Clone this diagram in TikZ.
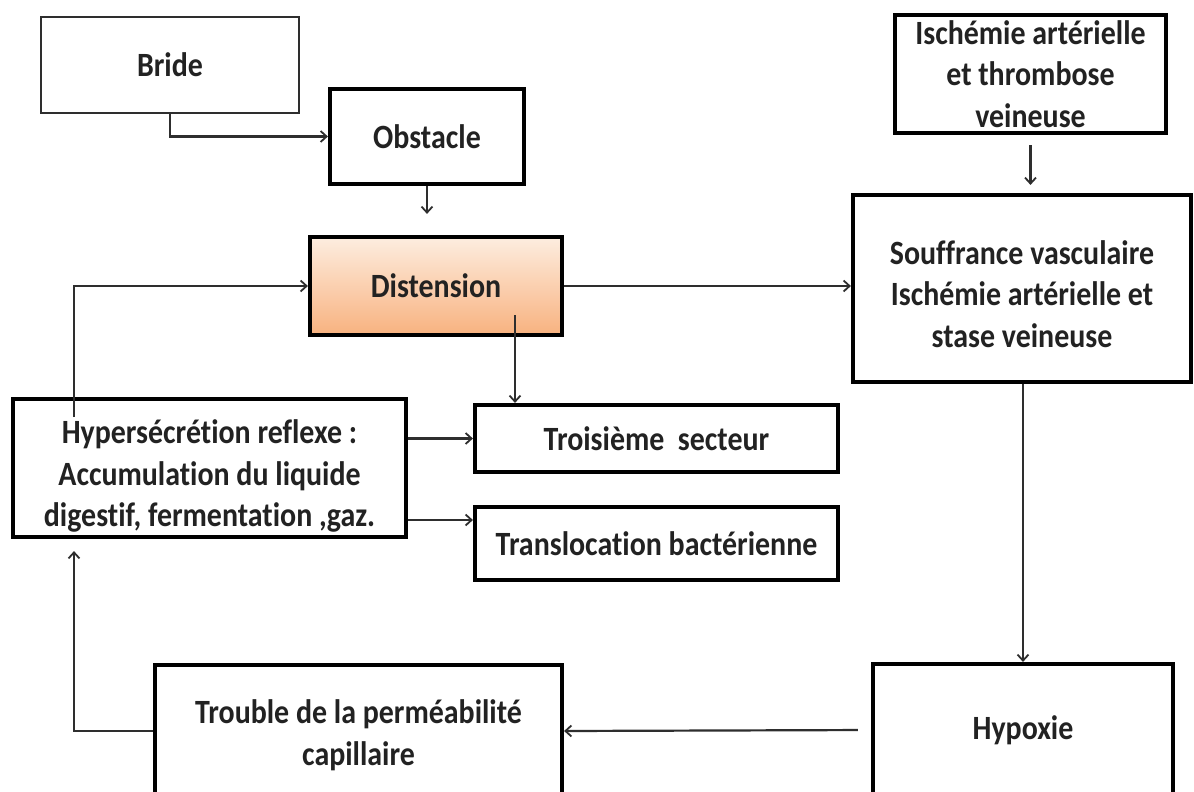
\documentclass[tikz,border=0pt]{standalone}
\usepackage{fontspec}
\setmainfont{Carlito}[FakeStretch=0.88,Ligatures={NoCommon}]
\usetikzlibrary{arrows.meta,calc}
\definecolor{txt}{HTML}{222222}
\definecolor{ln}{HTML}{2E2E2E}
\definecolor{orTop}{HTML}{FDEDE0}
\definecolor{orBot}{HTML}{F8B27F}
\tikzset{
  lbl/.style={inner sep=0pt, align=center, text=txt, font=\fontsize{34}{41.5}\selectfont\bfseries},
  box/.style={lbl, draw=black, line width=4.2pt, fill=white},
  thinbox/.style={box, line width=2.6pt, draw=ln},
  arr/.style={draw=ln, line width=2.2pt, -{Straight Barb[length=6pt,width=11pt,line width=1.8pt]}},
}
\begin{document}
\begin{tikzpicture}[x=1pt,y=-1pt]
\useasboundingbox (0,0) rectangle (1194,792);
\clip (0,0) rectangle (1194,792);
\fill[white] (0,0) rectangle (1194,792);

\node[thinbox, minimum width=258pt, minimum height=96pt] (bride) at (170,65) {Bride};
\node[box, minimum width=194pt, minimum height=95pt] (obstacle) at (427,136.5) {Obstacle};
\node[box, minimum width=252pt, minimum height=98pt, fill=none, top color=orTop, bottom color=orBot] (distension) at (436,286) {Distension};
\node[box, minimum width=271pt, minimum height=118pt] (ischemie) at (1030.5,74) {Ischémie artérielle\\et thrombose\\veineuse};
\node[box, minimum width=338pt, minimum height=187pt] (souffrance) at (1022,288.5) {};
\node[lbl] (souffrancetext) at (1022,294) {Souffrance vasculaire\\Ischémie artérielle et\\stase veineuse};
\node[box, minimum width=393pt, minimum height=138pt] (hyper) at (209.5,468) {};
\node[lbl] (hypertext) at (209.5,476) {Hypersécrétion reflexe :\\Accumulation du liquide\\digestif, fermentation ,gaz.};
\node[box, minimum width=363pt, minimum height=67pt] (troisieme) at (656.5,438.5) {Troisième\ \ secteur};
\node[box, minimum width=363pt, minimum height=73pt] (translocation) at (656.5,543.5) {Translocation bactérienne};
\node[box, minimum width=407pt, minimum height=132pt] (trouble) at (358.5,731) {};
\node[lbl] (troubletext) at (358.5,735) {Trouble de la perméabilité\\capillaire};
\node[box, minimum width=300pt, minimum height=132pt] (hypoxie) at (1023,730) {Hypoxie};

\coordinate (loopx) at (74,0);
\coordinate (hstart) at (74,417);
\coordinate (dstart) at (515,315);
\coordinate (tl) at (0,520);

\draw[arr] (bride.south) |- (obstacle.west);
\draw[arr, shorten >=21pt] (obstacle.south) -- (obstacle.south |- distension.north);
\draw[arr] (distension.east) -- (souffrance.west |- distension.east);
\draw[arr, shorten <=10pt, shorten >=8pt] (ischemie.south) -- (souffrance.north -| ischemie.south);
\draw[arr] (dstart) -- (troisieme.north -| dstart);
\draw[arr] (hstart) |- (distension.west);
\draw[arr] (troisieme.west -| hyper.east) -- (troisieme.west);
\draw[arr] (hyper.east |- tl) -- (translocation.west |- tl);
\draw[arr] (souffrance.south -| hypoxie.north) -- (hypoxie.north);
\draw[arr, shorten <=13pt] (hypoxie.west) -- (trouble.east);
\draw[arr, shorten >=12pt] (trouble.west) -| (hyper.south -| loopx);
\end{tikzpicture}
\end{document}
